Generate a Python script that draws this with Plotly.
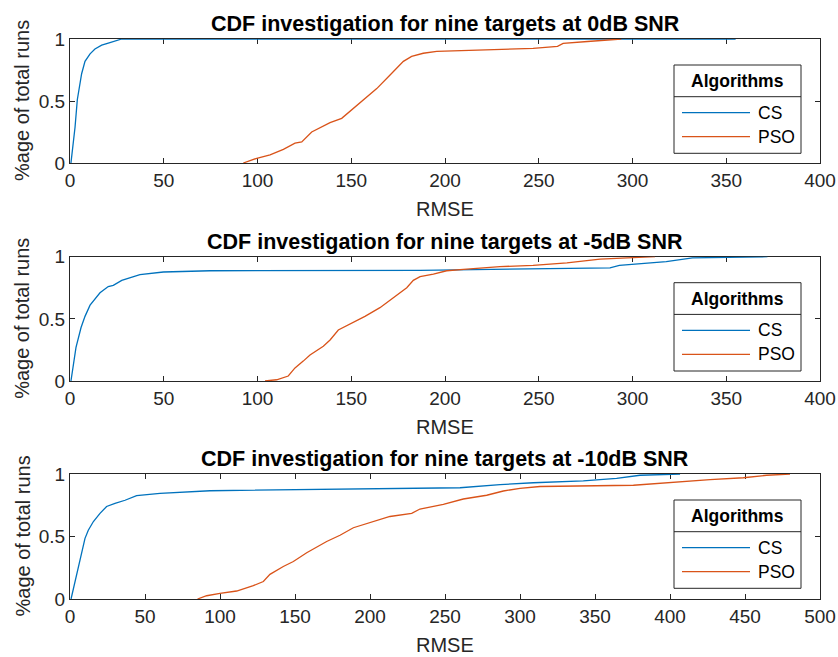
import plotly.graph_objects as go

# ---------------- data ----------------
titles = ["CDF investigation for nine targets at 0dB SNR",
          "CDF investigation for nine targets at -5dB SNR",
          "CDF investigation for nine targets at -10dB SNR"]
series_names = ["CS", "PSO"]
x_label = "RMSE"
y_label = "%age of total runs"
legend_title = "Algorithms"
x_max = [400, 400, 500]

cs_0db_x = [0.5, 2.7, 3.9, 5.0, 6.2, 8.0, 10.7, 13.3, 16.9, 21.3, 25.8, 27.6, 355]
cs_0db_y = [0, 0.29, 0.51, 0.62, 0.72, 0.82, 0.88, 0.92, 0.95, 0.97, 0.99, 1.0, 1.0]
pso_0db_x = [92.4, 99.6, 106.7, 113.8, 120, 123.6, 128.9, 138.7, 144.9, 150.2, 156.4, 163.6, 170.7, 177.8, 182.2, 188.4, 195.6, 218.7, 247, 260, 263, 276, 290, 294]
pso_0db_y = [0, 0.038, 0.065, 0.11, 0.16, 0.17, 0.25, 0.325, 0.36, 0.43, 0.51, 0.60, 0.71, 0.82, 0.86, 0.885, 0.90, 0.91, 0.925, 0.94, 0.965, 0.98, 1.0, 1.0]

cs_5db_x = [0.5, 3.2, 5.9, 8.0, 10.7, 16.0, 20.4, 23.1, 27.6, 32, 37.3, 49.8, 74.7, 186.7, 247, 288, 293, 318, 332, 372]
cs_5db_y = [0, 0.27, 0.43, 0.52, 0.61, 0.71, 0.76, 0.77, 0.81, 0.83, 0.855, 0.877, 0.887, 0.89, 0.90, 0.91, 0.93, 0.96, 0.99, 1.0]
pso_5db_x = [104, 110.2, 116.4, 120, 124.4, 128, 135.1, 138.7, 143.1, 151.1, 157.3, 165.3, 172.4, 179.6, 183.1, 186.7, 193.8, 200.9, 211.6, 229.3, 247, 265, 282.7, 300.4, 312]
pso_5db_y = [0, 0.01, 0.04, 0.105, 0.16, 0.21, 0.28, 0.33, 0.41, 0.47, 0.52, 0.59, 0.67, 0.75, 0.81, 0.84, 0.86, 0.887, 0.90, 0.92, 0.93, 0.95, 0.98, 0.995, 1.0]

cs_10db_x = [0.7, 5.6, 10, 12.2, 15.6, 20, 24.4, 30, 36.7, 44.4, 60, 93.3, 120, 220, 260, 286.7, 300, 308.9, 342.2, 364.4, 380, 406.7]
cs_10db_y = [0, 0.27, 0.485, 0.55, 0.62, 0.685, 0.74, 0.765, 0.79, 0.827, 0.845, 0.866, 0.87, 0.885, 0.89, 0.915, 0.925, 0.93, 0.945, 0.965, 0.99, 1.0]
pso_10db_x = [85, 91.1, 100, 111.1, 122.2, 128.9, 133.3, 142.2, 148.9, 157.8, 171.1, 180, 188.9, 200, 213.3, 227.8, 233.3, 248.9, 262.2, 277.8, 288.9, 300, 313.3, 375.6, 397.8, 426.7, 448.9, 464.4, 480]
pso_10db_y = [0, 0.026, 0.045, 0.064, 0.107, 0.14, 0.197, 0.26, 0.30, 0.37, 0.46, 0.51, 0.57, 0.61, 0.66, 0.685, 0.72, 0.757, 0.80, 0.83, 0.864, 0.885, 0.90, 0.91, 0.93, 0.955, 0.97, 0.99, 1.0]

panels = [((cs_0db_x, cs_0db_y), (pso_0db_x, pso_0db_y)),
          ((cs_5db_x, cs_5db_y), (pso_5db_x, pso_5db_y)),
          ((cs_10db_x, cs_10db_y), (pso_10db_x, pso_10db_y))]

# ---------------- style ----------------
W, H = 838, 657
colors = ["#0072BD", "#D95319"]
FONT = "Liberation Sans, Arial, sans-serif"
AX = "#262626"
plot_left, plot_right = 70, 820
plot_tops = [39, 256.7, 474]
plot_bottoms = [163, 381, 599]

def px(xp):
    return xp / W

def py(yp):
    return 1 - yp / H

fig = go.Figure()
layout = dict(width=W, height=H, autosize=False,
              margin=dict(l=0, r=0, t=0, b=0, pad=0),
              paper_bgcolor="white", plot_bgcolor="white",
              showlegend=False, font=dict(family=FONT, color=AX))
shapes, annotations = [], []

for i, (series, title) in enumerate(zip(panels, titles)):
    n = "" if i == 0 else str(i + 1)
    for (xs, ys), name, col in zip(series, series_names, colors):
        fig.add_trace(go.Scatter(x=xs, y=ys, mode="lines", name=name,
                                 line=dict(color=col, width=1.3),
                                 xaxis="x" + n, yaxis="y" + n,
                                 showlegend=False))
    top, bot = plot_tops[i], plot_bottoms[i]
    common = dict(showline=True, linecolor=AX, linewidth=1, mirror="allticks",
                  ticks="inside", ticklen=5, tickcolor=AX, tickwidth=1,
                  showgrid=False, zeroline=False, layer="below traces",
                  automargin=False,
                  tickfont=dict(family=FONT, size=19, color=AX))
    layout["xaxis" + n] = dict(domain=[px(plot_left), px(plot_right)],
                               range=[0, x_max[i]], dtick=50, tick0=0,
                               anchor="y" + n, **common)
    layout["yaxis" + n] = dict(domain=[py(bot), py(top)], range=[0, 1],
                               tickvals=[0, 0.5, 1], ticktext=["0", "0.5", "1"],
                               anchor="x" + n, **common)
    cx = (plot_left + plot_right) / 2
    annotations.append(dict(text="<b>" + title + "</b>", x=px(cx), y=py(top - 15),
                            xref="paper", yref="paper", showarrow=False,
                            xanchor="center", yanchor="middle",
                            font=dict(family=FONT, size=21.5, color="black")))
    annotations.append(dict(text=x_label, x=px(cx), y=py(bot + 46),
                            xref="paper", yref="paper", showarrow=False,
                            xanchor="center", yanchor="middle",
                            font=dict(family=FONT, size=20, color=AX)))
    annotations.append(dict(text=y_label, x=px(22), y=py((top + bot) / 2),
                            xref="paper", yref="paper", showarrow=False,
                            textangle=-90, xanchor="center", yanchor="middle",
                            font=dict(family=FONT, size=20, color=AX)))
    # legend box (MATLAB style with title)
    lx0, lx1 = 674, 801
    ly0, ly1 = top + 26, top + 114.3
    sep = top + 57.7
    shapes.append(dict(type="rect", xref="paper", yref="paper",
                       x0=px(lx0), x1=px(lx1), y0=py(ly1), y1=py(ly0),
                       line=dict(color=AX, width=1), fillcolor="white"))
    shapes.append(dict(type="line", xref="paper", yref="paper",
                       x0=px(lx0), x1=px(lx1), y0=py(sep), y1=py(sep),
                       line=dict(color=AX, width=1)))
    annotations.append(dict(text="<b>" + legend_title + "</b>", x=px((lx0 + lx1) / 2),
                            y=py((ly0 + sep) / 2), xref="paper", yref="paper",
                            showarrow=False, xanchor="center", yanchor="middle",
                            font=dict(family=FONT, size=17.5, color="black")))
    for k, (name, col) in enumerate(zip(series_names, colors)):
        yy = top + 73.7 + 24 * k
        shapes.append(dict(type="line", xref="paper", yref="paper",
                           x0=px(682), x1=px(750), y0=py(yy), y1=py(yy),
                           line=dict(color=col, width=1.3)))
        annotations.append(dict(text=name, x=px(756), y=py(yy), xref="paper",
                                yref="paper", showarrow=False, xanchor="left",
                                yanchor="middle",
                                font=dict(family=FONT, size=17.5, color="black")))

layout["shapes"] = shapes
layout["annotations"] = annotations
fig.update_layout(**layout)
fig.write_html("out.html",
               post_script="document.body.style.margin='0';document.body.style.overflow='hidden';")
